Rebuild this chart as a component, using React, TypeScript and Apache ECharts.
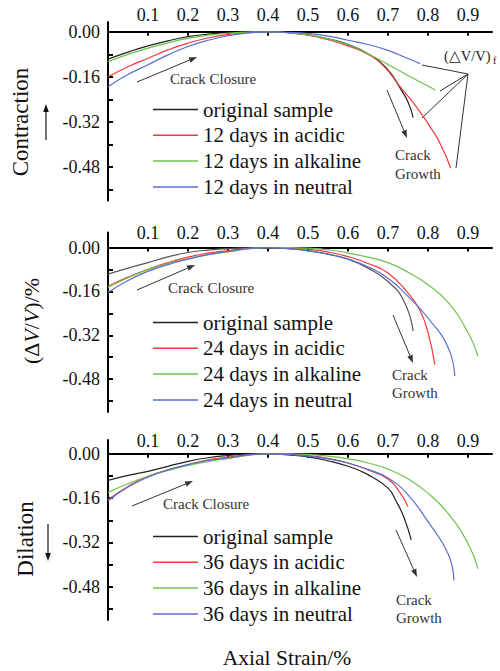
import React, { useEffect, useRef } from "react";
import * as echarts from "echarts";

const FONT = "'Liberation Serif', 'Times New Roman', serif";

const xTicks = [0.1, 0.2, 0.3, 0.4, 0.5, 0.6, 0.7, 0.8, 0.9];
const yTicks = [0, -0.08, -0.16, -0.24, -0.32, -0.4, -0.48, -0.56];
const yLabels = [0, -0.16, -0.32, -0.48];

const names12 = ["original sample", "12 days in acidic", "12 days in alkaline", "12 days in neutral"];
const names24 = ["original sample", "24 days in acidic", "24 days in alkaline", "24 days in neutral"];
const names36 = ["original sample", "36 days in acidic", "36 days in alkaline", "36 days in neutral"];

const colors = ["#222222", "#f03a3a", "#6cc24a", "#5a6ed0"];
const colors24 = ["#555555", "#f03a3a", "#6cc24a", "#5a6ed0"];

// Panel 1 (12 days)
const orig12 = [[0, -0.097], [0.05, -0.072], [0.1, -0.05], [0.15, -0.032], [0.2, -0.017], [0.25, -0.008], [0.3, -0.003], [0.35, -0.001], [0.4, 0], [0.45, -0.003], [0.5, -0.011], [0.55, -0.025], [0.6, -0.045], [0.65, -0.078], [0.7, -0.135], [0.73, -0.2], [0.75, -0.25], [0.763, -0.305]];
const acid12 = [[0, -0.16], [0.05, -0.124], [0.1, -0.094], [0.15, -0.064], [0.2, -0.04], [0.25, -0.022], [0.3, -0.01], [0.35, -0.003], [0.4, 0], [0.45, -0.003], [0.5, -0.012], [0.55, -0.028], [0.6, -0.05], [0.65, -0.08], [0.69, -0.123], [0.73, -0.195], [0.77, -0.265], [0.805, -0.337], [0.83, -0.396], [0.857, -0.485]];
const alk12 = [[0, -0.106], [0.05, -0.08], [0.1, -0.058], [0.15, -0.039], [0.2, -0.023], [0.25, -0.012], [0.3, -0.005], [0.35, -0.001], [0.4, 0], [0.45, -0.003], [0.5, -0.011], [0.55, -0.025], [0.6, -0.046], [0.65, -0.078], [0.7, -0.116], [0.75, -0.155], [0.8, -0.193], [0.818, -0.208]];
const neu12 = [[0, -0.195], [0.05, -0.152], [0.1, -0.117], [0.15, -0.082], [0.2, -0.052], [0.25, -0.03], [0.3, -0.014], [0.35, -0.004], [0.4, 0], [0.45, -0.002], [0.5, -0.006], [0.55, -0.015], [0.6, -0.03], [0.65, -0.045], [0.7, -0.066], [0.75, -0.095], [0.78, -0.113]];

// Panel 2 (24 days)
const orig24 = [[0, -0.097], [0.05, -0.075], [0.1, -0.055], [0.15, -0.034], [0.2, -0.018], [0.25, -0.009], [0.3, -0.004], [0.35, -0.001], [0.4, 0], [0.45, -0.004], [0.5, -0.011], [0.55, -0.024], [0.6, -0.042], [0.65, -0.075], [0.7, -0.124], [0.74, -0.196], [0.763, -0.305]];
const acid24 = [[0, -0.142], [0.05, -0.108], [0.1, -0.079], [0.15, -0.055], [0.2, -0.035], [0.25, -0.02], [0.3, -0.011], [0.35, -0.003], [0.4, 0], [0.45, -0.002], [0.5, -0.006], [0.55, -0.016], [0.6, -0.033], [0.65, -0.058], [0.7, -0.093], [0.75, -0.166], [0.78, -0.23], [0.8, -0.31], [0.817, -0.427]];
const alk24 = [[0, -0.145], [0.05, -0.11], [0.1, -0.081], [0.15, -0.058], [0.2, -0.041], [0.25, -0.026], [0.3, -0.015], [0.35, -0.005], [0.4, 0], [0.45, 0], [0.5, -0.002], [0.55, -0.008], [0.6, -0.02], [0.65, -0.035], [0.7, -0.055], [0.75, -0.09], [0.8, -0.136], [0.85, -0.2], [0.9, -0.31], [0.925, -0.396]];
const neu24 = [[0, -0.164], [0.05, -0.12], [0.1, -0.087], [0.15, -0.062], [0.2, -0.042], [0.25, -0.026], [0.3, -0.015], [0.35, -0.004], [0.4, 0], [0.45, -0.004], [0.5, -0.011], [0.55, -0.024], [0.6, -0.042], [0.65, -0.07], [0.7, -0.112], [0.75, -0.178], [0.8, -0.257], [0.85, -0.364], [0.867, -0.469]];

// Panel 3 (36 days)
const orig36 = [[0, -0.096], [0.05, -0.078], [0.1, -0.063], [0.15, -0.045], [0.2, -0.027], [0.25, -0.014], [0.3, -0.006], [0.35, -0.001], [0.4, 0], [0.45, -0.004], [0.5, -0.011], [0.55, -0.025], [0.6, -0.045], [0.65, -0.075], [0.7, -0.124], [0.72, -0.17], [0.74, -0.23], [0.758, -0.311]];
const acid36 = [[0, -0.166], [0.05, -0.118], [0.1, -0.081], [0.15, -0.058], [0.2, -0.039], [0.25, -0.022], [0.3, -0.012], [0.35, -0.003], [0.4, 0], [0.45, -0.001], [0.5, -0.006], [0.55, -0.016], [0.6, -0.033], [0.65, -0.058], [0.7, -0.091], [0.73, -0.14], [0.75, -0.19]];
const alk36 = [[0, -0.139], [0.05, -0.108], [0.1, -0.081], [0.15, -0.06], [0.2, -0.042], [0.25, -0.028], [0.3, -0.017], [0.35, -0.006], [0.4, 0], [0.45, 0], [0.5, -0.002], [0.55, -0.008], [0.6, -0.018], [0.65, -0.033], [0.7, -0.055], [0.75, -0.09], [0.8, -0.142], [0.85, -0.215], [0.9, -0.324], [0.925, -0.415]];
const neu36 = [[0, -0.17], [0.05, -0.12], [0.1, -0.084], [0.15, -0.058], [0.2, -0.039], [0.25, -0.024], [0.3, -0.015], [0.35, -0.004], [0.4, 0], [0.45, -0.002], [0.5, -0.008], [0.55, -0.018], [0.6, -0.033], [0.65, -0.056], [0.7, -0.087], [0.75, -0.148], [0.8, -0.245], [0.85, -0.36], [0.865, -0.457]];

const panels = [
  { names: names12, data: [orig12, acid12, alk12, neu12], cols: colors, yMax: 0.035 },
  { names: names24, data: [orig24, acid24, alk24, neu24], cols: colors24, yMax: 0.055 },
  { names: names36, data: [orig36, acid36, alk36, neu36], cols: colors, yMax: 0.05 },
];

const gridBoxes = [
  { top: 22, height: 178.5, labelMargin: -2 },
  { top: 232.5, height: 179.5, labelMargin: -9 },
  { top: 440, height: 180, labelMargin: -10 },
];
const legendTops = [99, 312, 526];

function arrow(x1: number, y1: number, x2: number, y2: number, color = "#333", head = 8, w = 1) {
  const dx = x2 - x1, dy = y2 - y1;
  const len = Math.sqrt(dx * dx + dy * dy);
  const ux = dx / len, uy = dy / len;
  const bx = x2 - ux * head, by = y2 - uy * head;
  const px = -uy * head * 0.35, py = ux * head * 0.35;
  return [
    { type: "line", shape: { x1, y1, x2: bx, y2: by }, style: { stroke: color, lineWidth: w } },
    { type: "polygon", shape: { points: [[x2, y2], [bx + px, by + py], [bx - px, by - py]] }, style: { fill: color } },
  ];
}

function text(x: number, y: number, t: string, size: number, extra: any = {}, rotation = 0, align = "left") {
  return {
    type: "text",
    x,
    y,
    rotation,
    style: {
      text: t,
      fontSize: size,
      fontFamily: FONT,
      fill: extra.fill || "#111",
      align,
      verticalAlign: "middle",
      textAlign: align,
      textVerticalAlign: "middle",
      ...extra,
    },
  };
}

export default function App() {
  const ref = useRef<HTMLDivElement>(null);
  useEffect(() => {
    if (!ref.current) return;
    const chart = echarts.init(ref.current, null, { renderer: "svg" });

    const grid = gridBoxes.map((g) => ({ left: 108, width: 384, top: g.top, height: g.height }));
    const xAxis = panels.map((p, i) => ({
      type: "value",
      gridIndex: i,
      min: 0,
      max: 0.96,
      position: "top",
      axisLine: { onZero: true, lineStyle: { color: "#000", width: 2 } },
      axisTick: { inside: true, length: 4, customValues: xTicks, lineStyle: { color: "#000", width: 2 } },
      axisLabel: {
        customValues: xTicks,
        formatter: (v: number) => v.toFixed(1),
        fontSize: 18,
        fontFamily: FONT,
        color: "#111",
        margin: gridBoxes[i].labelMargin,
      },
      splitLine: { show: false },
    }));
    const yAxis = panels.map((p, i) => ({
      type: "value",
      gridIndex: i,
      min: -0.6,
      max: p.yMax,
      axisLine: { show: true, onZero: false, lineStyle: { color: "#000", width: 2 } },
      axisTick: { show: true, inside: true, length: 5, customValues: yTicks, lineStyle: { color: "#000", width: 2 } },
      axisLabel: {
        customValues: yLabels,
        formatter: (v: number) => (Math.abs(v) < 1e-9 ? "0.00" : v.toFixed(2)),
        fontSize: 18,
        fontFamily: FONT,
        color: "#111",
        margin: 8,
      },
      splitLine: { show: false },
    }));

    const series: any[] = [];
    panels.forEach((p, i) => {
      p.data.forEach((d, j) => {
        series.push({
          type: "line",
          name: p.names[j],
          xAxisIndex: i,
          yAxisIndex: i,
          data: d,
          smooth: true,
          symbol: "none",
          lineStyle: { color: p.cols[j], width: 1.2 },
          itemStyle: { color: p.cols[j] },
        });
      });
    });

    const legend = panels.map((p, i) => ({
      data: p.names,
      orient: "vertical",
      left: 153,
      top: legendTops[i],
      icon: "rect",
      itemWidth: 45,
      itemHeight: 1.5,
      itemGap: 4.8,
      padding: 0,
      selectedMode: false,
      textStyle: { fontSize: 21, fontFamily: FONT, color: "#111", lineHeight: 20 },
    }));

    const graphics: any[] = [
      // y titles
      text(20, 122, "Contraction", 23, {}, Math.PI / 2, "center"),
      ...arrow(46, 140, 46, 104, "#111", 8, 1.2),
      {
        type: "text",
        x: 31,
        y: 321,
        rotation: Math.PI / 2,
        style: {
          text: "(Δ{i|V}/{i|V})/%",
          fontSize: 22,
          fontFamily: FONT,
          fill: "#111",
          align: "center",
          verticalAlign: "middle",
          textAlign: "center",
          textVerticalAlign: "middle",
          rich: { i: { fontStyle: "italic", fontSize: 22, fontFamily: FONT, fill: "#111" } },
        },
      },
      text(25, 539, "Dilation", 23, {}, Math.PI / 2, "center"),
      ...arrow(48, 524, 48, 561, "#111", 8, 1.2),
      // x title
      text(287, 658, "Axial Strain/%", 21.5, {}, 0, "center"),
      // Crack closure
      ...arrow(137, 82, 197, 57),
      text(170, 79, "Crack Closure", 15, { fill: "#333" }),
      ...arrow(137, 290, 195, 265),
      text(168, 288, "Crack Closure", 15, { fill: "#333" }),
      ...arrow(132, 506, 193, 481),
      text(163, 504, "Crack Closure", 15, { fill: "#333" }),
      // Crack growth
      ...arrow(387, 90, 407, 138),
      text(395, 155, "Crack", 15, { fill: "#333" }),
      text(395, 174, "Growth", 15, { fill: "#333" }),
      ...arrow(393, 315, 413, 363),
      text(392, 375, "Crack", 15, { fill: "#333" }),
      text(392, 393, "Growth", 15, { fill: "#333" }),
      ...arrow(396, 530, 417, 577),
      text(396, 600, "Crack", 15, { fill: "#333" }),
      text(396, 618, "Growth", 15, { fill: "#333" }),
      // (ΔV/V)f
      text(444, 56, "(△V/V)", 14.5, { fill: "#222" }),
      text(493, 60, "f", 10, { fill: "#222" }),
      { type: "line", shape: { x1: 468, y1: 74, x2: 422, y2: 65 }, style: { stroke: "#333", lineWidth: 1 } },
      { type: "line", shape: { x1: 468, y1: 74, x2: 440, y2: 91 }, style: { stroke: "#333", lineWidth: 1 } },
      { type: "line", shape: { x1: 468, y1: 74, x2: 422, y2: 118 }, style: { stroke: "#333", lineWidth: 1 } },
      { type: "line", shape: { x1: 468, y1: 74, x2: 456, y2: 168 }, style: { stroke: "#333", lineWidth: 1 } },
    ];

    chart.setOption({
      animation: false,
      backgroundColor: "#fff",
      grid,
      xAxis,
      yAxis,
      legend,
      series,
      graphic: graphics,
    } as any);
    return () => chart.dispose();
  }, []);
  return <div ref={ref} style={{ position: "fixed", left: 0, top: 0, width: 500, height: 671, background: "#fff" }} />;
}
